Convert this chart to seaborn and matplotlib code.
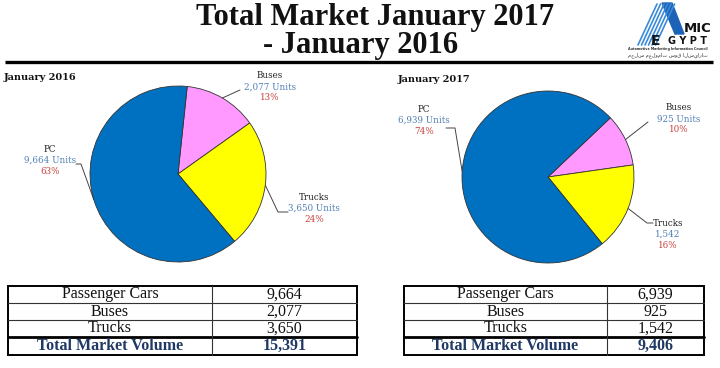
import numpy as np
import seaborn as sns
import matplotlib.pyplot as plt
from matplotlib.patches import Rectangle, Polygon

# data
segments = ["Buses", "Trucks", "PC"]
units_2016 = [2077, 3650, 9664]
units_2017 = [925, 1542, 6939]
show_units_2017 = [True, False, True]
table_labels = ["Passenger Cars", "Buses", "Trucks"]
table_2016 = [9664, 2077, 3650]
table_2017 = [6939, 925, 1542]
colors = ["#FF99FF", "#FFFF00", "#0070C0"]

sns.set_theme(style="white")
plt.rcParams["font.family"] = ["DejaVu Serif"]

W, H = 720, 368
fig = plt.figure(figsize=(7.2, 3.68), dpi=100)
ov = fig.add_axes([0, 0, 1, 1])
ov.set_xlim(0, W)
ov.set_ylim(H, 0)
ov.axis("off")

BLUE_TXT = "#4F7FB5"
RED_TXT = "#C8403C"
NAVY = "#1F3864"

# title
ov.text(375, 25, "Total Market January 2017", ha="center", va="baseline",
        fontsize=22, family="Liberation Serif", weight="bold", color="#111111")
ov.text(361, 53, "- January 2016", ha="center", va="baseline",
        fontsize=22, family="Liberation Serif", weight="bold", color="#111111")
ov.plot([5, 713], [62, 62], color="black", lw=2.4, solid_capstyle="butt")

# logo (rough)
for k in range(6):
    ov.plot([638 + k * 3.5, 657 + k * 3.5], [45, 4], color="#3A8AD8", lw=1.2)
ov.add_patch(Polygon([[662, 3], [672, 3], [684, 34], [675, 34]], closed=True,
                     color="#1C63B8"))
ov.text(698, 29, "MIC", ha="center", va="center", fontsize=9.5,
        family="DejaVu Sans", weight="bold", color="#111111")
ov.text(655, 41, "E", ha="center", va="center", fontsize=10,
        family="DejaVu Sans", weight="bold", color="#111111")
ov.text(688, 41, "G Y P T", ha="center", va="center", fontsize=7,
        family="DejaVu Sans", weight="bold", color="#111111")
ov.text(668, 49, "Automotive Marketing Information Council", ha="center",
        va="center", fontsize=2.4, family="DejaVu Sans", weight="bold",
        color="#333333")
ov.text(668, 55, "مجلس معلومات سوق السيارات", ha="center", va="center",
        fontsize=3.6, family="DejaVu Sans", color="#333333")


def draw_pie(values, cx, cy, r, start, title, title_xy, label_pos, units_flags):
    ax = fig.add_axes([(cx - r) / W, (H - cy - r) / H, 2 * r / W, 2 * r / H])
    wedges, _ = ax.pie(values, colors=colors, startangle=start, counterclock=False,
                       wedgeprops=dict(edgecolor="#333333", linewidth=0.6))
    ax.set_xlim(-1, 1)
    ax.set_ylim(-1, 1)
    ax.set_aspect("equal")
    ax.axis("off")
    ov.text(title_xy[0], title_xy[1], title, ha="left", va="center",
            fontsize=7, weight="bold", color="#111111")
    total = sum(values)
    for w, name, v, flag, (tx, ty, path) in zip(wedges, segments, values,
                                                units_flags, label_pos):
        mid = np.deg2rad((w.theta1 + w.theta2) / 2)
        ex, ey = cx + r * np.cos(mid), cy - r * np.sin(mid)
        xs = [ex] + [p[0] for p in path]
        ys = [ey] + [p[1] for p in path]
        ov.plot(xs, ys, color="#444444", lw=0.7)
        units = f"{v:,} Units" if flag else f"{v:,}"
        ov.text(tx, ty, name, ha="center", va="center", fontsize=6.3,
                color="#222222")
        ov.text(tx, ty + 11, units, ha="center", va="center", fontsize=6.3,
                color=BLUE_TXT)
        ov.text(tx, ty + 22, f"{round(v / total * 100)}%", ha="center",
                va="center", fontsize=6.3, color=RED_TXT)


draw_pie(units_2016, 178, 174, 88, 84, "January 2016", (4, 78),
         [(270, 76, [(240, 90)]),
          (314, 197, [(278, 212), (288, 212)]),
          (50, 149, [(81, 164), (76, 164)])],
         [True, True, True])

draw_pie(units_2017, 548, 177, 86, 43.5, "January 2017", (398, 79),
         [(679, 108, [(648, 122)]),
          (668, 223, [(647, 223), (653, 223)]),
          (424, 109, [(455, 128), (446, 128)])],
         show_units_2017)


def draw_table(x0, x1, xd, vals):
    ys = [286, 303, 320, 337, 355]
    for i, (lab, v) in enumerate(zip(table_labels, vals)):
        yc = (ys[i] + ys[i + 1]) / 2
        ov.text((x0 + xd) / 2, yc, lab, ha="center", va="center", fontsize=11.5,
                family="Liberation Serif", color="#111111")
        ov.text((xd + x1) / 2, yc, f"{v:,}", ha="center", va="center",
                fontsize=11.5, family="Liberation Serif", color="#111111")
    yc = (ys[3] + ys[4]) / 2
    ov.text((x0 + xd) / 2, yc, "Total Market Volume", ha="center", va="center",
            fontsize=11.5, family="Liberation Serif", weight="bold", color=NAVY)
    ov.text((xd + x1) / 2, yc, f"{sum(vals):,}", ha="center", va="center",
            fontsize=11.5, family="Liberation Serif", weight="bold", color=NAVY)
    for y in ys[1:3]:
        ov.plot([x0, x1], [y, y], color="#333333", lw=0.8)
    ov.plot([x0, x1], [ys[3], ys[3]], color="black", lw=2.0)
    ov.plot([xd, xd], [ys[0], ys[-1]], color="#333333", lw=0.8)
    ov.add_patch(Rectangle((x0, ys[0]), x1 - x0, ys[-1] - ys[0], fill=False,
                           edgecolor="black", lw=1.4))


draw_table(8, 357, 212, table_2016)
draw_table(404, 704, 607, table_2017)

fig.savefig("out.png", dpi=100)
